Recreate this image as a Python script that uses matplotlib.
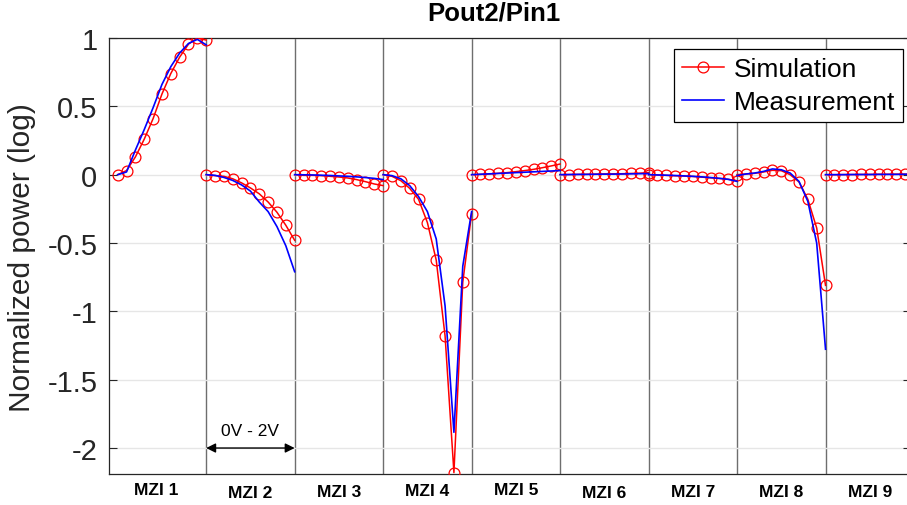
import numpy as np
import matplotlib
matplotlib.use('Agg')
import matplotlib.pyplot as plt

plt.rcParams['font.family'] = ['Liberation Sans', 'DejaVu Sans']

# 11 bias steps (0V..2V) per MZI, 9 MZIs side by side
steps = [0, 1, 2, 3, 4, 5, 6, 7, 8, 9, 10]
mzi_names = ['MZI 1', 'MZI 2', 'MZI 3', 'MZI 4', 'MZI 5', 'MZI 6', 'MZI 7', 'MZI 8', 'MZI 9']

sim = [
    [0, 0.03, 0.13, 0.26, 0.41, 0.59, 0.74, 0.86, 0.955, 1.0, 0.985],
    [0, -0.007, -0.012, -0.03, -0.06, -0.097, -0.14, -0.2, -0.275, -0.37, -0.48],
    [0, -0.005, -0.005, -0.007, -0.012, -0.017, -0.024, -0.036, -0.051, -0.068, -0.08],
    [0, -0.012, -0.044, -0.1, -0.18, -0.35, -0.625, -1.18, -2.18, -0.786, -0.285],
    [0, 0.002, 0.005, 0.01, 0.015, 0.022, 0.03, 0.039, 0.051, 0.064, 0.078],
    [0, 0.001, 0.002, 0.003, 0.004, 0.005, 0.006, 0.007, 0.009, 0.011, 0.015],
    [0, -0.002, -0.005, -0.008, -0.01, -0.013, -0.018, -0.023, -0.027, -0.034, -0.045],
    [0, 0.005, 0.01, 0.02, 0.032, 0.029, 0, -0.053, -0.18, -0.39, -0.81],
    [0, 0, 0.001, 0.001, 0.002, 0.002, 0.003, 0.003, 0.004, 0.004, 0.005],
]

meas = [
    [0, 0.02, 0.18, 0.33, 0.49, 0.66, 0.79, 0.89, 0.96, 0.99, 0.95],
    [0, -0.005, -0.02, -0.042, -0.075, -0.12, -0.2, -0.27, -0.38, -0.52, -0.71],
    [0, -0.001, -0.002, -0.004, -0.006, -0.009, -0.012, -0.016, -0.021, -0.027, -0.036],
    [0, -0.007, -0.03, -0.08, -0.16, -0.27, -0.47, -0.96, -1.885, -0.67, -0.27],
    [0, 0.003, 0.006, 0.009, 0.012, 0.015, 0.018, 0.021, 0.024, 0.027, 0.03],
    [0, 0.001, 0.002, 0.002, 0.003, 0.004, 0.004, 0.005, 0.006, 0.007, 0.008],
    [0, -0.002, -0.004, -0.006, -0.009, -0.012, -0.016, -0.021, -0.027, -0.034, -0.049],
    [-0.007, 0.005, 0.012, 0.024, 0.042, 0.036, 0.012, -0.049, -0.195, -0.5, -1.277],
    [0, 0, 0, 0.001, 0.001, 0.001, 0.002, 0.002, 0.002, 0.003, 0.003],
]

yticks = [-2, -1.5, -1, -0.5, 0, 0.5, 1]
ytick_labels = ['-2', '-1.5', '-1', '-0.5', '0', '0.5', '1']

W, H = 907, 506
fig = plt.figure(figsize=(W / 100, H / 100), dpi=100)
ax = fig.add_axes([108.5 / W, 31 / H, (911 - 108.5) / W, (475 - 39) / H])

nseg = len(mzi_names)
seg = len(steps) - 1
for k in range(nseg):
    x = [k * seg + s for s in steps]
    ax.plot(x, sim[k], '-o', color='red', lw=1.1, ms=7.8, mfc='none', mec='red', mew=0.9,
            label='Simulation' if k == 0 else None, zorder=3)
    ax.plot(x, meas[k], '-', color='blue', lw=1.2,
            label='Measurement' if k == 0 else None, zorder=4)

ax.set_xlim(-1.04, 89.66)
ax.set_ylim(-2.19, 1.0)

# segment boundaries as x grid
ax.set_xticks([k * seg for k in range(1, nseg)])
ax.tick_params(axis='x', length=0, labelbottom=False)
ax.grid(axis='x', color='#6e6e6e', lw=1.0)
ax.set_yticks(yticks)
ax.set_yticklabels(ytick_labels)
ax.grid(axis='y', color='#e6e6e6', lw=1.0)
ax.set_axisbelow(True)
ax.tick_params(axis='y', direction='in', length=6, width=0.8, labelsize=21, pad=8,
               right=True, colors='#262626')
for sp in ax.spines.values():
    sp.set_color('#262626')
    sp.set_linewidth(0.9)

ax.set_title('Pout2/Pin1', fontsize=18.5, fontweight='bold', pad=13, x=0.48)
fig.text(22 / W, 1 - 258 / H, 'Normalized power (log)', rotation=90, fontsize=21.5,
         ha='center', va='center', color='#262626')

# MZI labels under each segment
label_dy = [0, 3, 2, 1, 0, 3, 2, 2, 2]
for k, name in enumerate(mzi_names):
    xc = k * seg + seg / 2 - (0.7 if k == 0 else 0)
    ax.annotate(name, xy=(xc, 0), xycoords=('data', 'axes fraction'),
                xytext=(0, -16 - label_dy[k]), textcoords='offset pixels',
                ha='center', va='center', fontsize=12.5, fontweight='bold')

# voltage range arrow
ax.annotate('', xy=(seg, -2), xytext=(2 * seg, -2),
            arrowprops=dict(arrowstyle='<|-|>', color='black', lw=1.0, mutation_scale=14,
                            shrinkA=0, shrinkB=0))
ax.text(1.5 * seg, -1.875, '0V - 2V', ha='center', va='center', fontsize=12.5)

leg = ax.legend(loc='upper right', bbox_to_anchor=(903 / W, 1 - 50 / H),
                bbox_transform=fig.transFigure, borderaxespad=0, fontsize=19,
                handlelength=1.6, labelspacing=0.35, borderpad=0.3, handletextpad=0.35,
                fancybox=False, edgecolor='black', framealpha=1, numpoints=1)
leg.get_frame().set_linewidth(0.9)

fig.savefig('out.png', dpi=100)
